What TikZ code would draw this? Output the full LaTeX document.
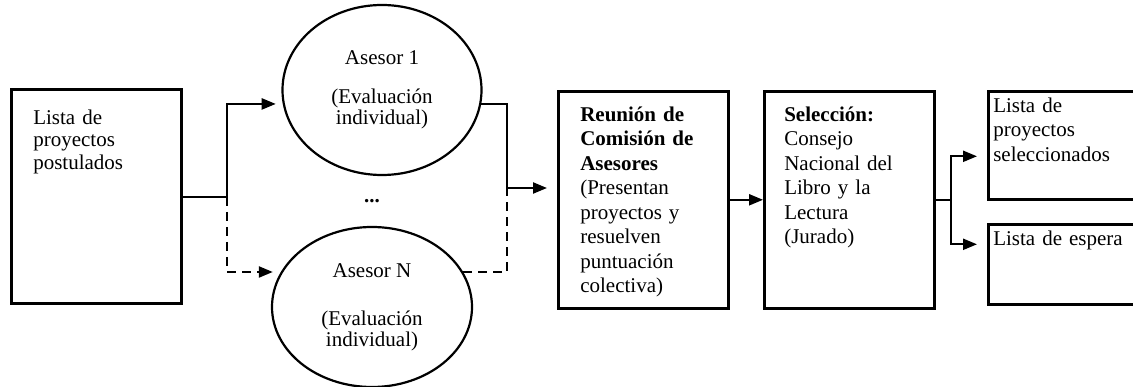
\documentclass[tikz,border=0pt]{standalone}
\usepackage{fontspec}
\setmainfont{Liberation Serif}
\usetikzlibrary{arrows.meta}
\usetikzlibrary{shapes.geometric}
\tikzset{box/.style = {draw, line width=2.6pt, anchor=north west, align=left, inner ysep=0pt, font=\fontsize{21}{24.5}\selectfont}}
\tikzset{asesor/.style = {draw, ellipse, line width=2.2pt, inner sep=0pt, align=center, font=\fontsize{21}{21}\selectfont}}
\tikzset{link/.style = {line width=2.2pt}}
\tikzset{flow/.style = {link, -{Triangle[length=14pt,width=11pt]}}}
\tikzset{guion/.style = {dash pattern=on 9pt off 6pt}}

\begin{document}
\begin{tikzpicture}[x=1pt,y=-1pt]
        \useasboundingbox (0,0) rectangle (1133,387);
        \clip (0,0) rectangle (1133,387);
        % cajas
        \node [box, font=\fontsize{21}{22.5}\selectfont, inner xsep=22pt, text width=126pt, text height=35pt, text depth=179pt] (lista) at (10,88) {Lista de\\proyectos\\postulados};
        \node [box, inner xsep=22pt, text width=126pt, text height=30pt, text depth=187pt] (reunion) at (557,90) {\textbf{Reunión de}\\\textbf{Comisión de}\\\textbf{Asesores}\\(Presentan\\proyectos y\\resuelven\\puntuación\\colectiva)};
        \node [box, inner xsep=20pt, text width=130pt, text height=30pt, text depth=187pt] (seleccion) at (763,90) {\textbf{Selección:}\\Consejo\\Nacional del\\Libro y la\\Lectura\\(Jurado)};
        \node [box, inner xsep=5pt, text width=160pt, text height=21pt, text depth=87pt] (elegidos) at (987,90) {Lista de\\proyectos\\seleccionados};
        \node [box, inner xsep=5pt, text width=160pt, text height=21pt, text depth=59pt] (espera) at (987,223) {Lista de espera};
        % asesores
        \node [asesor, minimum width=199pt, minimum height=170pt] (asesor1) at (382,90) {Asesor 1\\[18pt](Evaluación\\individual)};
        \node [asesor, minimum width=200pt, minimum height=160pt] (asesorN) at (372,307) {Asesor N\\[27pt](Evaluación\\individual)};
        \node [font=\fontsize{21}{21}\selectfont] (puntos) at (372,201) {\textbf{...}};
        % flechas
        \coordinate (reparto) at (227,197);
        \coordinate (union) at (507,188);
        \coordinate (salida) at ([xshift=15pt]seleccion.east);
        \draw [link] (lista.east |- reparto) -- (reparto);
        \draw [flow] (reparto) |- ([xshift=-7pt]asesor1.188);
        \draw [flow, guion] (reparto) |- ([xshift=-8pt]asesorN.159);
        \draw [link] (asesor1.352) -| (union);
        \draw [link, guion] (asesorN.21) -| (union);
        \draw [flow] (union) -- ([xshift=-10pt]reunion.west |- union);
        \draw [flow] (reunion) -- (seleccion);
        \draw [link] (seleccion.east) -- (salida);
        \draw [flow] (salida) |- ([xshift=-10pt, yshift=-11pt]elegidos.west);
        \draw [flow] (salida) |- ([xshift=-10pt, yshift=20pt]espera.west);
\end{tikzpicture}
\end{document}
